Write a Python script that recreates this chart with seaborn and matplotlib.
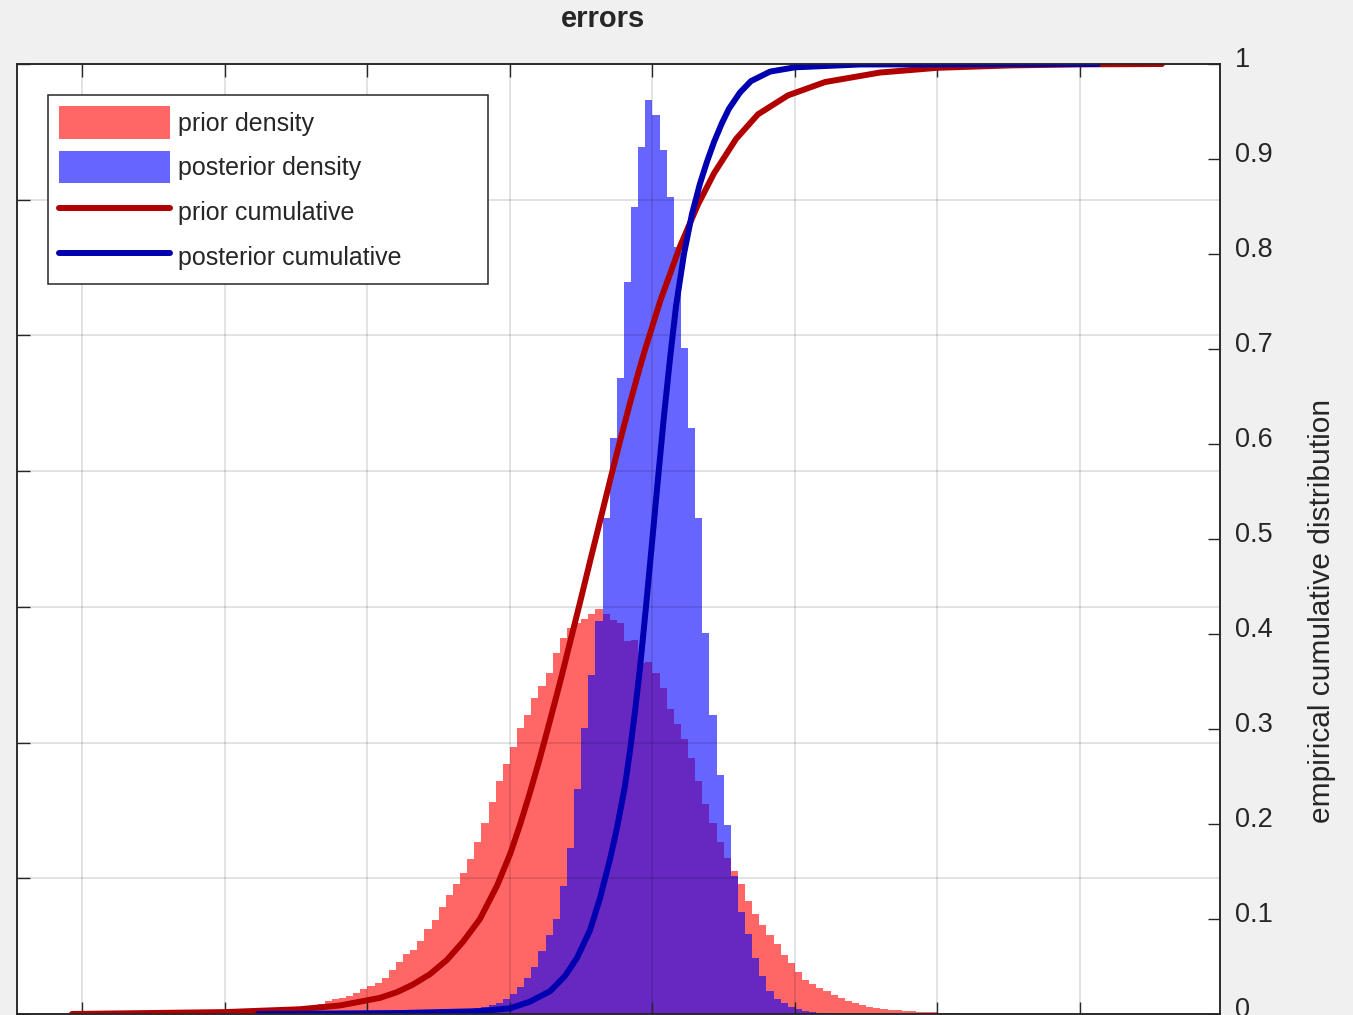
import numpy as np
import pandas as pd
import matplotlib
matplotlib.use("Agg")
import matplotlib.pyplot as plt
import seaborn as sns
from matplotlib.patches import Patch
from matplotlib.lines import Line2D
from matplotlib.transforms import ScaledTranslation

# ── data ────────────────────────────────────────────────────────────────────
bin_width = 0.05
prior_start = -3.10        # left edge of first prior bin
posterior_start = -1.35    # left edge of first posterior bin

prior_density = [
    0.001, 0.001, 0.002, 0.002, 0.003, 0.003, 0.003, 0.004, 0.004, 0.006,
    0.006, 0.007, 0.007, 0.009, 0.010, 0.015, 0.019, 0.022, 0.024, 0.027,
    0.031, 0.037, 0.041, 0.046, 0.053, 0.065, 0.077, 0.089, 0.095, 0.108,
    0.126, 0.139, 0.157, 0.176, 0.192, 0.208, 0.229, 0.254, 0.281, 0.312,
    0.343, 0.369, 0.394, 0.421, 0.440, 0.465, 0.484, 0.502, 0.532, 0.554,
    0.569, 0.576, 0.582, 0.589, 0.597, 0.589, 0.580, 0.576, 0.549, 0.551,
    0.517, 0.518, 0.502, 0.480, 0.450, 0.428, 0.406, 0.377, 0.343, 0.310,
    0.281, 0.254, 0.230, 0.210, 0.192, 0.167, 0.148, 0.131, 0.117, 0.103,
    0.087, 0.075, 0.062, 0.050, 0.044, 0.038, 0.034, 0.028, 0.024, 0.019,
    0.016, 0.013, 0.010, 0.009, 0.007, 0.006, 0.006, 0.004, 0.004, 0.003,
    0.003, 0.003, 0.002, 0.001, 0.001,
]

posterior_density = [
    0.004, 0.006, 0.009, 0.010, 0.013, 0.016, 0.022, 0.030, 0.040, 0.053,
    0.069, 0.093, 0.117, 0.140, 0.189, 0.245, 0.332, 0.421, 0.499, 0.579,
    0.731, 0.849, 0.938, 1.078, 1.189, 1.277, 1.347, 1.325, 1.273, 1.204,
    1.130, 0.982, 0.864, 0.731, 0.561, 0.440, 0.352, 0.278, 0.204, 0.151,
    0.118, 0.083, 0.056, 0.034, 0.022, 0.016, 0.010, 0.007, 0.004, 0.003,
    0.002, 0.001,
]

prior_cdf_x = [-4.074, -3.0, -2.474, -2.193, -1.912, -1.793, -1.681, -1.561, -1.442, -1.330,
               -1.211, -1.091, -1.0, -0.930, -0.860, -0.789, -0.719, -0.649, -0.579, -0.509,
               -0.439, -0.368, -0.284, -0.228, -0.158, -0.088, -0.053, 0.053, 0.193, 0.319,
               0.432, 0.586, 0.740, 0.951, 1.211, 1.596, 2.0, 2.509, 3.0, 3.575]
prior_cdf_y = [0.0, 0.002, 0.005, 0.009, 0.017, 0.023, 0.031, 0.042, 0.057, 0.076,
               0.100, 0.135, 0.168, 0.199, 0.233, 0.270, 0.309, 0.349, 0.391, 0.433,
               0.476, 0.519, 0.570, 0.603, 0.643, 0.681, 0.699, 0.750, 0.808, 0.852,
               0.885, 0.921, 0.947, 0.967, 0.981, 0.991, 0.996, 0.9985, 0.9996, 1.0]

post_cdf_x = [-2.768, -1.772, -1.211, -1.0, -0.860, -0.719, -0.614, -0.530, -0.439, -0.368,
              -0.298, -0.249, -0.193, -0.158, -0.123, -0.088, -0.046, -0.004, 0.039, 0.081,
              0.123, 0.165, 0.221, 0.277, 0.333, 0.382, 0.432, 0.488, 0.537, 0.614,
              0.691, 0.825, 1.0, 1.456, 3.126]
post_cdf_y = [0.0, 0.001, 0.003, 0.006, 0.013, 0.024, 0.040, 0.059, 0.088, 0.122,
              0.163, 0.196, 0.240, 0.277, 0.318, 0.364, 0.428, 0.495, 0.564, 0.630,
              0.690, 0.745, 0.800, 0.842, 0.874, 0.897, 0.918, 0.938, 0.953, 0.970,
              0.982, 0.992, 0.9965, 0.9995, 1.0]

x_ticks = [-4, -3, -2, -1, 0, 1, 2, 3]
cdf_ticks = [0, 0.1, 0.2, 0.3, 0.4, 0.5, 0.6, 0.7, 0.8, 0.9, 1]
cdf_tick_labels = ["0", "0.1", "0.2", "0.3", "0.4", "0.5", "0.6", "0.7", "0.8", "0.9", "1"]
legend_labels = ["prior density", "posterior density", "prior cumulative", "posterior cumulative"]

# ── bins ────────────────────────────────────────────────────────────────────
prior_edges = (prior_start + bin_width * np.arange(len(prior_density) + 1)).tolist()
post_edges = (posterior_start + bin_width * np.arange(len(posterior_density) + 1)).tolist()
prior_df = pd.DataFrame({"error": np.array(prior_edges[:-1]) + bin_width / 2,
                         "density": prior_density})
post_df = pd.DataFrame({"error": np.array(post_edges[:-1]) + bin_width / 2,
                        "density": posterior_density})

sns.set_style("white")
plt.rcParams["font.family"] = ["Liberation Sans", "DejaVu Sans"]

W, H = 1353, 1015
fig = plt.figure(figsize=(W / 100, H / 100), dpi=100, facecolor="#f0f0f0")
ax = fig.add_axes([17.3 / W, 1 - 1014 / H, (1220 - 17.3) / W, 950 / H])
ax.set_facecolor("white")

sns.histplot(data=prior_df, x="error", weights="density", bins=prior_edges,
             element="step", fill=True, color="red", alpha=0.6, linewidth=0, ax=ax)
sns.histplot(data=post_df, x="error", weights="density", bins=post_edges,
             element="step", fill=True, color="blue", alpha=0.6, linewidth=0, ax=ax)

ax2 = ax.twinx()
red_line = "#b00000"
blue_line = "#0000b0"
sns.lineplot(x=prior_cdf_x, y=prior_cdf_y, ax=ax2, color=red_line, linewidth=4.3,
             estimator=None, solid_joinstyle="round")
sns.lineplot(x=post_cdf_x, y=post_cdf_y, ax=ax2, color=blue_line, linewidth=4.3,
             estimator=None, solid_joinstyle="round")

ax.set_xlim(-4.4575, 3.9825)
ax.set_ylim(0, 1.4)
ax.set_xticks(x_ticks)
ax.set_yticks(np.arange(0, 1.41, 0.2))
ax.set_xlabel("")
ax.set_ylabel("")
ax.tick_params(direction="in", length=9, width=1, color="#262626", top=True, bottom=True,
               left=True, right=False, labelbottom=False, labelleft=False)
ax.grid(True, color="black", alpha=0.15, linewidth=1.1)
ax.set_axisbelow(False)

ax2.set_ylim(0, 1)
ax2.set_yticks(cdf_ticks)
ax2.set_yticklabels(cdf_tick_labels)
ax2.set_ylabel("")
ax2.tick_params(axis="y", direction="in", length=9, width=1, color="#262626",
                labelsize=19.5, labelcolor="#262626", pad=10.8)
ax2.grid(False)
shift = ScaledTranslation(0, 7 / 100, fig.dpi_scale_trans)
for tick in ax2.yaxis.get_major_ticks():
    tick.label2.set_transform(tick.label2.get_transform() + shift)

for a in (ax, ax2):
    for s in a.spines.values():
        s.set_color("#262626")
        s.set_linewidth(1.1)

handles = [
    Patch(facecolor="red", alpha=0.6, edgecolor="none"),
    Patch(facecolor="blue", alpha=0.6, edgecolor="none"),
    Line2D([], [], color=red_line, linewidth=4.3),
    Line2D([], [], color=blue_line, linewidth=4.3),
]
leg = ax2.legend(handles, legend_labels, loc="upper left",
                 bbox_to_anchor=(48 / W, 1 - 285 / H, 440 / W, 190 / H),
                 bbox_transform=fig.transFigure, mode="expand", borderaxespad=0,
                 fontsize=18, handlelength=4.44, handleheight=1.61, handletextpad=0.32,
                 labelspacing=0.5, borderpad=0.45, fancybox=False, framealpha=1,
                 edgecolor="#262626")
leg.get_frame().set_linewidth(1.1)

fig.text(603 / W, 1 - 19 / H, "errors", ha="center", va="center", fontsize=21, fontweight="bold")
fig.text(1322 / W, 1 - 611 / H, "empirical cumulative distribution", ha="center", va="center",
         rotation=90, fontsize=21.5, color="#262626")

fig.savefig("out.png", dpi=100, facecolor=fig.get_facecolor())
